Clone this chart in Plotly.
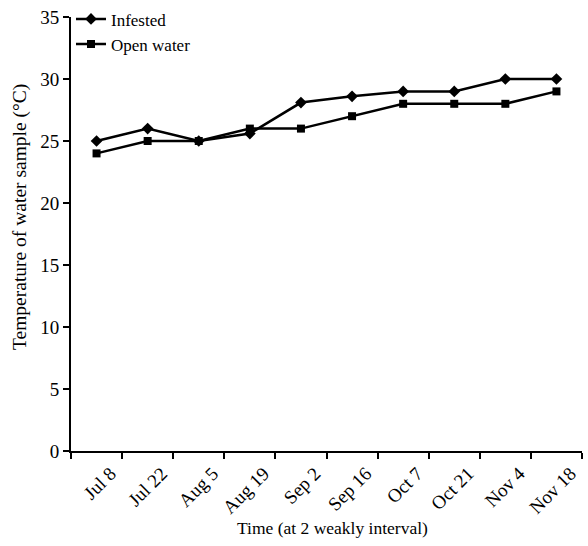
import plotly.graph_objects as go

# Sampling dates (two-week interval)
dates = ["Jul 8", "Jul 22", "Aug 5", "Aug 19", "Sep 2",
         "Sep 16", "Oct 7", "Oct 21", "Nov 4", "Nov 18"]

# Water temperature (°C)
infested = [25, 26, 25, 25.6, 28.1, 28.6, 29, 29, 30, 30]
open_water = [24, 25, 25, 26, 26, 27, 28, 28, 28, 29]

y_ticks = [0, 5, 10, 15, 20, 25, 30, 35]

FONT = "Liberation Serif, Times New Roman, serif"

fig = go.Figure()
fig.add_trace(go.Scatter(
    x=dates, y=infested, name="Infested", mode="lines+markers",
    line=dict(color="black", width=2.5),
    marker=dict(symbol="diamond", size=9, color="black"),
))
fig.add_trace(go.Scatter(
    x=dates, y=open_water, name="Open water", mode="lines+markers",
    line=dict(color="black", width=2.5),
    marker=dict(symbol="square", size=8, color="black"),
))

fig.update_layout(
    width=588, height=546,
    margin=dict(l=71, r=6, t=17, b=95, autoexpand=False),
    paper_bgcolor="white", plot_bgcolor="white",
    font=dict(family=FONT, size=18, color="black"),
    showlegend=True,
    legend=dict(x=0.0, y=1.036, xanchor="left", yanchor="top",
                bgcolor="rgba(0,0,0,0)", itemwidth=30,
                font=dict(family=FONT, size=17), tracegroupgap=0),
    xaxis=dict(
        type="category", range=[-0.5, 9.5], tickson="boundaries",
        showline=True, linecolor="black", linewidth=2,
        ticks="outside", ticklen=6, tickwidth=2, tickcolor="black",
        tickangle=-45, showgrid=False, zeroline=False,
        ticklabelshift=14, ticklabelstandoff=2,
        tickfont=dict(size=19),
        automargin=False,
    ),
    yaxis=dict(
        range=[0, 35], tickvals=y_ticks,
        showline=True, linecolor="black", linewidth=2,
        ticks="outside", ticklen=6, tickwidth=2, tickcolor="black",
        showgrid=False, zeroline=False,
        tickfont=dict(size=19),
        automargin=False,
    ),
    annotations=[
        dict(text="Time (at 2 weakly interval)", xref="paper", yref="paper",
             x=(332 - 71) / 511, y=-(528 - 451) / 434, xanchor="center", yanchor="middle",
             showarrow=False, font=dict(size=17.5)),
        dict(text="Temperature of water sample (°C)", xref="paper", yref="paper",
             x=-(71 - 20) / 511, y=(451 - 217) / 434, xanchor="center", yanchor="middle",
             textangle=-90, showarrow=False, font=dict(size=19.5)),
    ],
)

fig.write_html("out.html")
